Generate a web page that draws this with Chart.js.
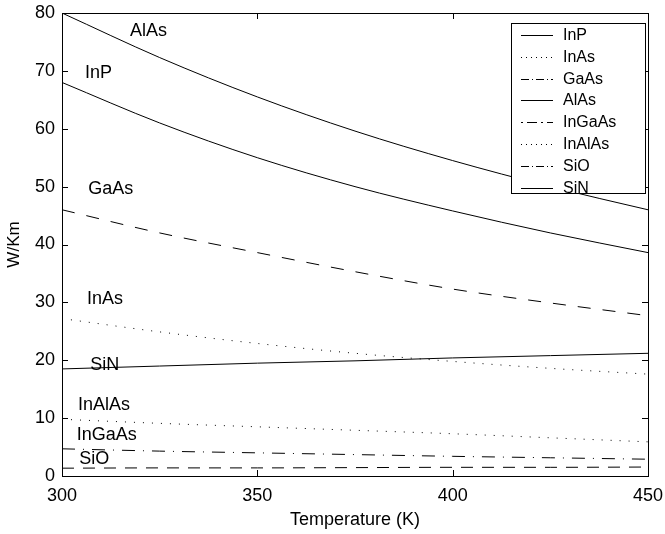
<!DOCTYPE html>
<html>
<head>
<meta charset="utf-8">
<script src="https://cdn.jsdelivr.net/npm/chart.js@4/dist/chart.umd.min.js"></script>
<style>
  html, body { margin: 0; padding: 0; background: #fff; }
  #wrap { width: 665px; height: 534px; }
</style>
</head>
<body>
<div id="wrap"><canvas id="chart"></canvas></div>
<script>
// temperatures (K)
const temps = [300, 325, 350, 375, 400, 425, 450];

// thermal conductivity, W/Km
const alas   = [80, 72.3, 65.5, 59.6, 54.5, 50.0, 46.0];
const inp    = [68, 61.0, 55.0, 50.0, 45.8, 42.0, 38.6];
const gaas   = [46, 42.0, 38.6, 35.3, 32.3, 29.9, 27.7];
const inas   = [27.2, 24.9, 22.9, 21.2, 19.8, 18.6, 17.6];
const sin    = [18.5, 19.0, 19.5, 19.9, 20.4, 20.8, 21.2];
const inalas = [9.8, 9.1, 8.5, 7.9, 7.3, 6.6, 5.9];
const ingaas = [4.7, 4.3, 4.0, 3.7, 3.4, 3.15, 2.9];
const sio    = [1.35, 1.4, 1.4, 1.45, 1.5, 1.5, 1.55];

const xTicks = [300, 350, 400, 450];
const yTicks = [0, 10, 20, 30, 40, 50, 60, 70, 80];

// legend entries as printed in the original figure
const legendNames = ["InP", "InAs", "GaAs", "AlAs", "InGaAs", "InAlAs", "SiO", "SiN"];
const legendDash = [[], [1, 4], [8, 3, 1, 3], [], [2, 4, 10, 4], [1, 4], [8, 3, 1, 3], []];

// in-plot labels: [text, temperature, value]
const labels = [
    ["AlAs", 317.4, 76.8],
    ["InP", 305.9, 69.6],
    ["GaAs", 306.7, 49.6],
    ["InAs", 306.4, 30.5],
    ["SiN", 307.2, 19.2],
    ["InAlAs", 304.1, 12.2],
    ["InGaAs", 303.8, 7.0],
    ["SiO", 304.4, 2.9]
];

const FONT = "'Liberation Sans', Arial, Helvetica, sans-serif";

function series(name, values, dash) {
    return {
        label: name,
        data: temps.map((t, i) => ({ x: t, y: values[i] })),
        borderColor: '#000',
        borderWidth: 1,
        borderDash: dash,
        pointRadius: 0,
        fill: false,
        cubicInterpolationMode: 'monotone'
    };
}

const frameTicks = {
    id: 'frameTicks',
    afterDatasetsDraw(chart) {
        const ctx = chart.ctx;
        const a = chart.chartArea;
        const xs = chart.scales.x, ys = chart.scales.y;
        ctx.save();
        ctx.strokeStyle = '#000';
        ctx.lineWidth = 1;
        ctx.setLineDash([]);
        ctx.strokeRect(Math.round(a.left) + 0.5, Math.round(a.top) + 0.5,
            Math.round(a.right - a.left), Math.round(a.bottom - a.top));
        const len = 6;
        ctx.beginPath();
        xTicks.forEach(v => {
            const px = Math.round(xs.getPixelForValue(v)) + 0.5;
            ctx.moveTo(px, a.bottom); ctx.lineTo(px, a.bottom - len);
            ctx.moveTo(px, a.top); ctx.lineTo(px, a.top + len);
        });
        yTicks.forEach(v => {
            const py = Math.round(ys.getPixelForValue(v)) + 0.5;
            ctx.moveTo(a.left, py); ctx.lineTo(a.left + len, py);
            ctx.moveTo(a.right, py); ctx.lineTo(a.right - len, py);
        });
        ctx.stroke();

        // labels next to the curves
        ctx.fillStyle = '#000';
        ctx.font = '18px ' + FONT;
        ctx.textAlign = 'left';
        ctx.textBaseline = 'middle';
        labels.forEach(l => {
            ctx.fillText(l[0], xs.getPixelForValue(l[1]), ys.getPixelForValue(l[2]));
        });

        // legend box
        const bx = 511, by = 23, bw = 134, bh = 170;
        ctx.fillStyle = '#fff';
        ctx.fillRect(bx, by, bw, bh);
        ctx.strokeRect(bx + 0.5, by + 0.5, bw, bh);
        ctx.font = '16px ' + FONT;
        legendNames.forEach((n, i) => {
            const y = Math.round(by + 12 + i * 21.8) + 0.5;
            ctx.beginPath();
            ctx.setLineDash(legendDash[i]);
            ctx.moveTo(bx + 10, y);
            ctx.lineTo(bx + 42, y);
            ctx.stroke();
            ctx.setLineDash([]);
            ctx.fillStyle = '#000';
            ctx.fillText(n, bx + 52, y);
        });
        ctx.restore();
    }
};

new Chart(document.getElementById('chart'), {
    type: 'line',
    data: {
        datasets: [
            series('AlAs', alas, []),
            series('InP', inp, []),
            series('GaAs', gaas, [13, 12]),
            series('InAs', inas, [1, 8]),
            series('SiN', sin, []),
            series('InAlAs', inalas, [1, 8]),
            series('InGaAs', ingaas, [13, 8, 1, 8]),
            series('SiO', sio, [12, 9])
        ]
    },
    options: {
        responsive: true,
        maintainAspectRatio: false,
        animation: false,
        layout: { padding: { top: 13, right: 17, left: 0, bottom: 0 } },
        plugins: { legend: { display: false }, tooltip: { enabled: false } },
        scales: {
            x: {
                type: 'linear',
                min: 300, max: 450,
                afterFit: s => { s.height = 58; s.paddingLeft = 0; s.paddingRight = 0; },
                afterBuildTicks: s => { s.ticks = xTicks.map(v => ({ value: v })); },
                grid: { display: false, drawTicks: false },
                border: { display: false },
                ticks: { color: '#000', font: { family: FONT, size: 18 }, padding: 9, maxRotation: 0 },
                title: { display: true, text: 'Temperature (K)', color: '#000',
                         font: { family: FONT, size: 18 }, padding: { top: 0, bottom: 3 } }
            },
            y: {
                min: 0, max: 80,
                afterFit: s => { s.width = 62; s.paddingTop = 0; s.paddingBottom = 0; },
                afterBuildTicks: s => { s.ticks = yTicks.map(v => ({ value: v })); },
                grid: { display: false, drawTicks: false },
                border: { display: false },
                ticks: { color: '#000', font: { family: FONT, size: 18 }, padding: 7 },
                title: { display: true, text: 'W/Km', color: '#000',
                         font: { family: FONT, size: 17 }, padding: { top: 4, bottom: 0 } }
            }
        }
    },
    plugins: [frameTicks]
});
</script>
</body>
</html>
